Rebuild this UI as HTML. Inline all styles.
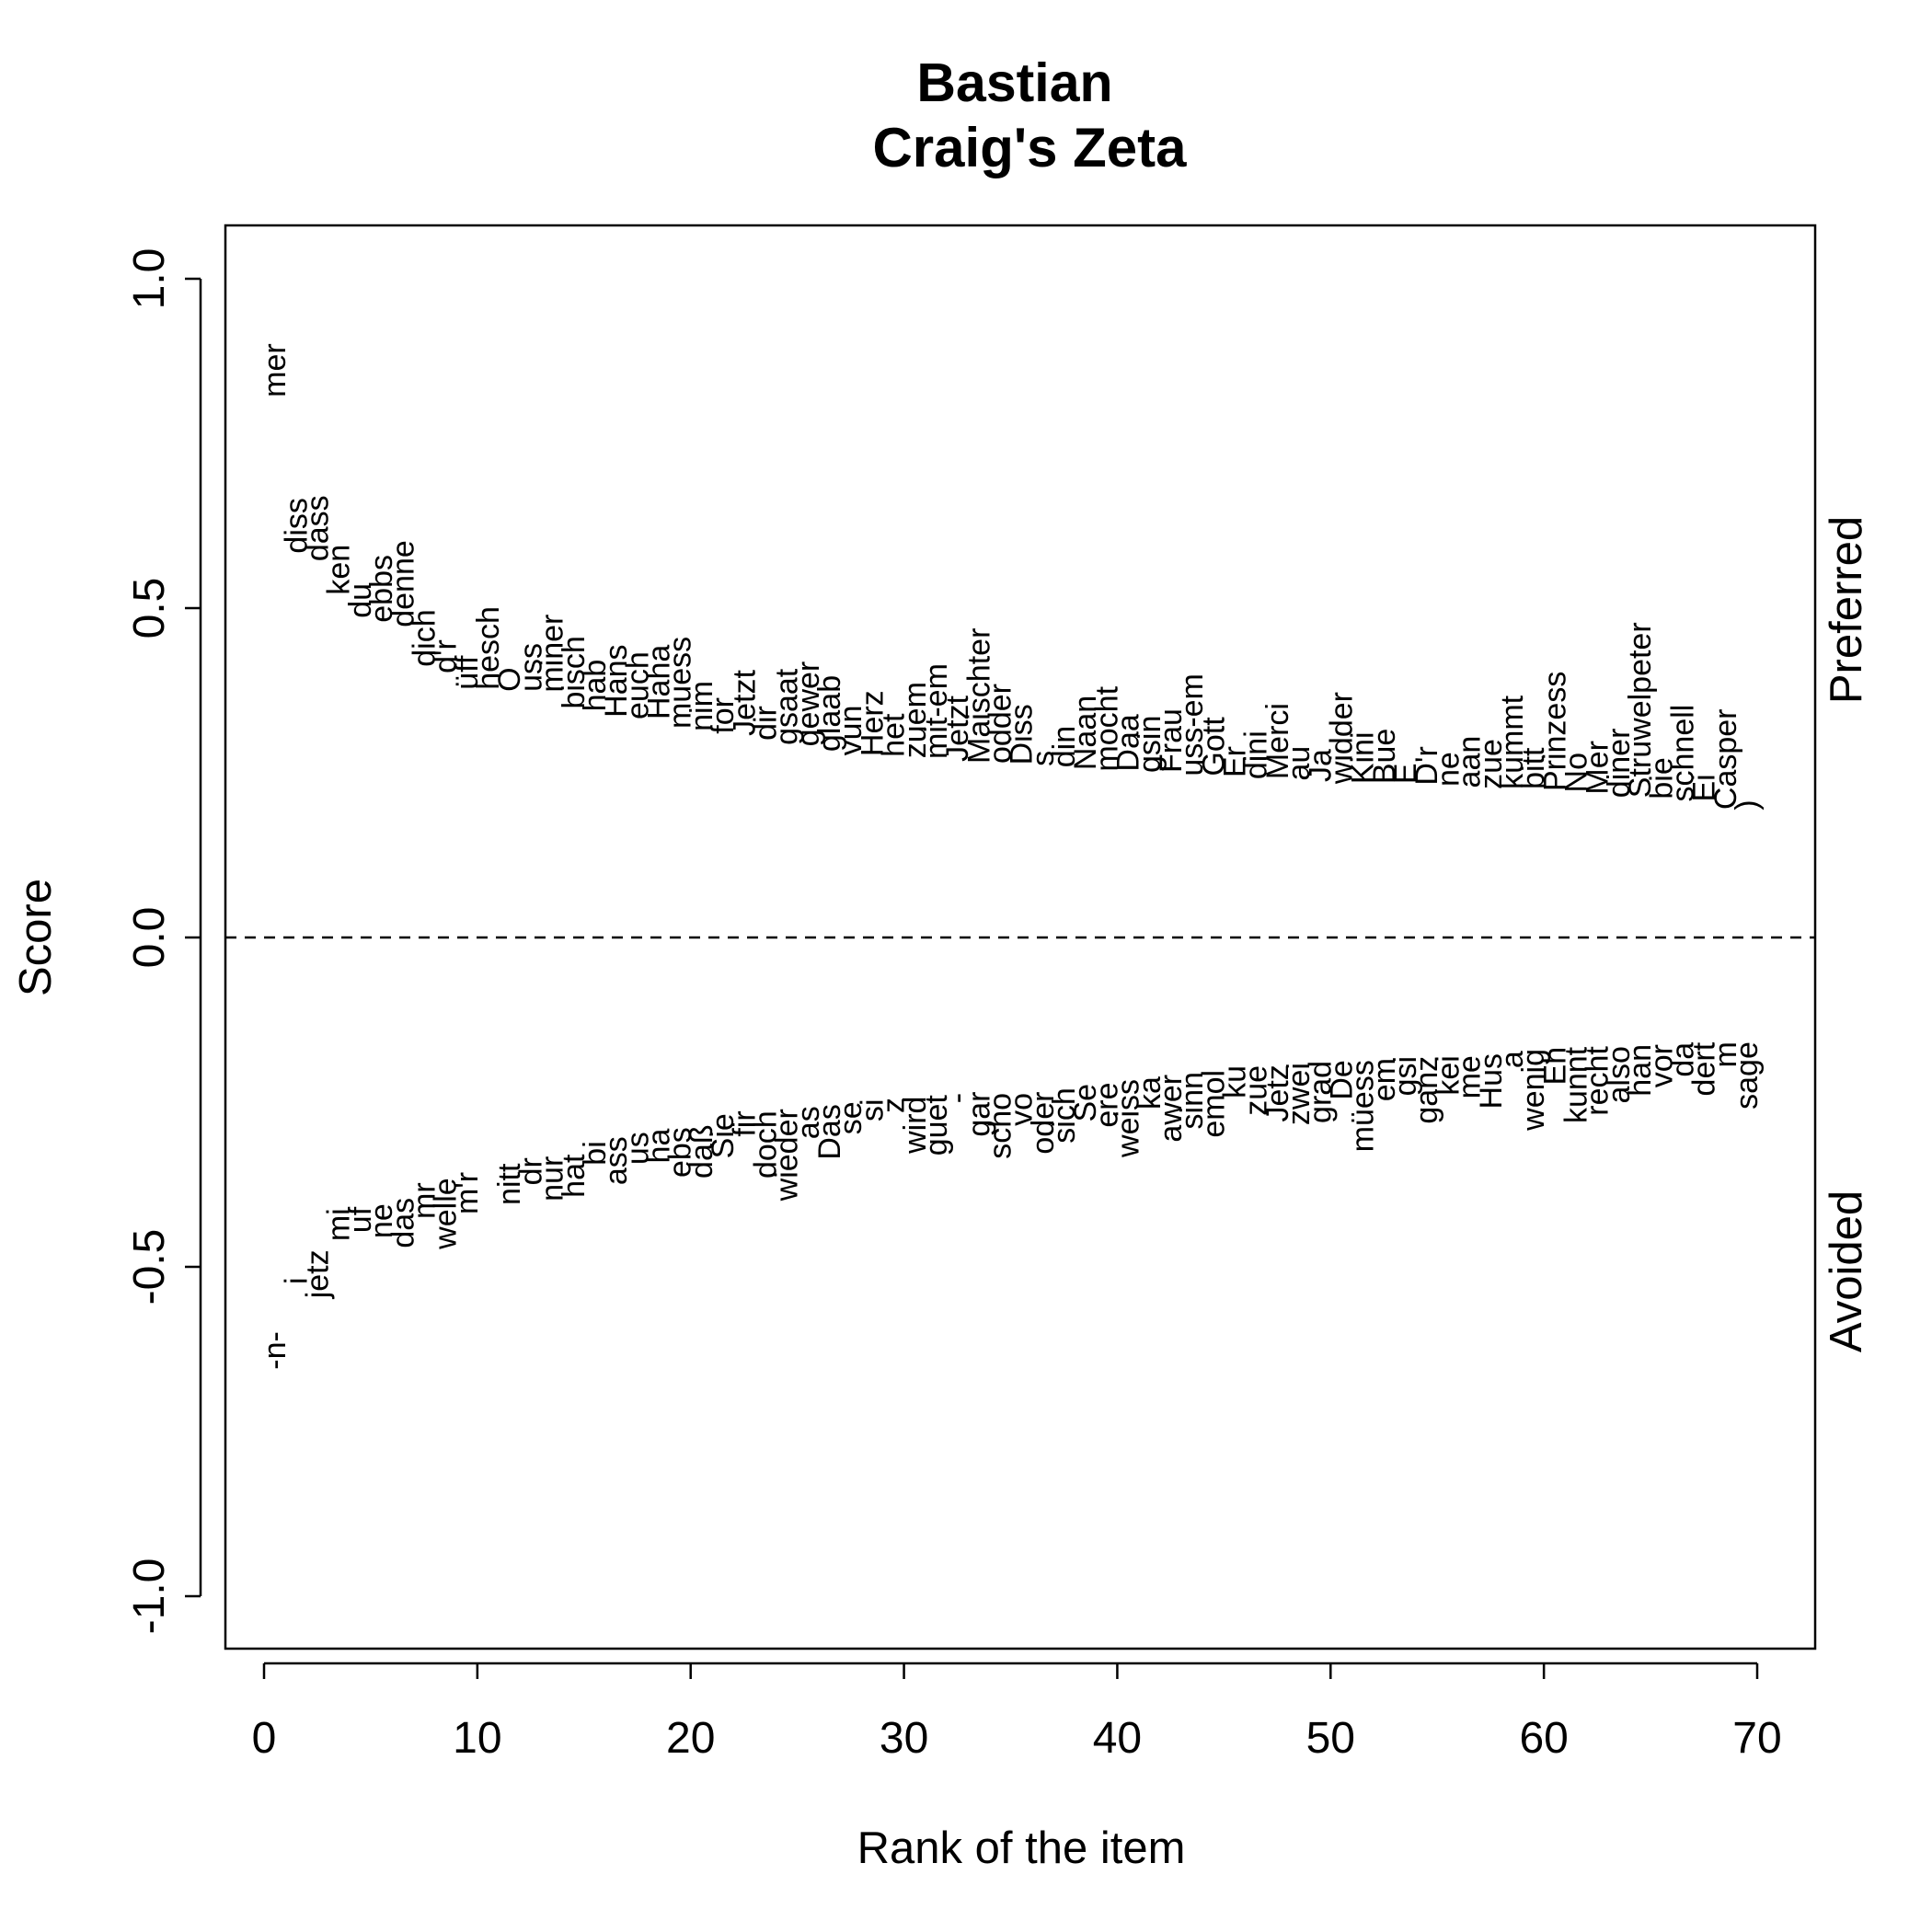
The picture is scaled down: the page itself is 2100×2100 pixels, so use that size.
<!DOCTYPE html>
<html><head><meta charset="utf-8">
<style>
html,body{margin:0;padding:0;background:#fff;}
svg{display:block;font-family:"Liberation Sans",Arial,sans-serif;}
</style></head>
<body>
<svg id="chart" width="2100" height="2100" viewBox="0 0 2100 2100" xmlns="http://www.w3.org/2000/svg">
<rect x="0" y="0" width="2100" height="2100" fill="#fff"/>
<text x="1103" y="110" font-size="59" font-weight="bold" text-anchor="middle">Bastian</text>
<text x="1119" y="181" font-size="60" font-weight="bold" text-anchor="middle">Craig's Zeta</text>
<rect x="245" y="245" width="1728" height="1547" fill="none" stroke="#000" stroke-width="2.5"/>
<g id="axes"></g>
<g id="marks"></g>
<text x="1110" y="2025" font-size="49" text-anchor="middle">Rank of the item</text>
<text transform="translate(55,1019) rotate(-90)" font-size="49" text-anchor="middle">Score</text>
<text transform="translate(2023,663) rotate(-90)" font-size="49" text-anchor="middle">Preferred</text>
<text transform="translate(2023,1382) rotate(-90)" font-size="49" text-anchor="middle">Avoided</text>
</svg>
<script>
const preferredWords = ["mer","diss","dass","ken","du","ebbs","denne","dich","d'r","üff","hesch","O","uss","miner","bisch","hab","Hans","euch","Haha","muess","nim","for","Jetzt","dir","gsaat","gewer","glaab","vun","Herz","het","zuem","mit-em","Jetzt","Maischter","odder","Diss","s","din","Naan","mocht","Daa","gsin","Frau","uss-em","Gott","Er","dini","Merci","au","Ja","widder","Kini","Bue","E","D'r","ne","aan","zue","kummt","bitt","Prinzess","No","Mer","diner","Struwelpeter","bie","schnell","Ei","Casper",")"];
const preferredScores = [0.820,0.583,0.571,0.520,0.485,0.478,0.471,0.411,0.401,0.376,0.376,0.373,0.373,0.372,0.347,0.343,0.334,0.331,0.331,0.317,0.313,0.309,0.306,0.299,0.292,0.290,0.282,0.276,0.275,0.274,0.272,0.271,0.267,0.264,0.264,0.262,0.260,0.258,0.254,0.252,0.252,0.250,0.250,0.245,0.245,0.243,0.240,0.240,0.238,0.236,0.233,0.233,0.233,0.233,0.231,0.229,0.227,0.225,0.225,0.225,0.222,0.220,0.217,0.212,0.212,0.210,0.206,0.206,0.194,0.193];
const avoidedWords = ["-n-","i","jetz","mi","uf","ne","das","mr","welle","m'r","","nitt","dr","nur","hat","bi","ass","us","ha","ebs","daß","Sie","fir","doch","wieder","as","Das","se","si","z","wird","guet","-","gar","scho","vo","oder","sich","Se","ere","weiss","ka","awer","sinn","emol","ku","zue","Jetz","zwei","grad","De","müess","em","gsi","ganz","kei","me","Hus","a","wenig","Eh","kunnt","recht","also","han","vor","da","dert","m","sage"];
const avoidedScores = [-0.598,-0.516,-0.474,-0.411,-0.409,-0.404,-0.395,-0.372,-0.365,-0.356,-0.349,-0.343,-0.334,-0.332,-0.329,-0.309,-0.302,-0.295,-0.290,-0.288,-0.284,-0.267,-0.263,-0.263,-0.260,-0.256,-0.253,-0.249,-0.245,-0.243,-0.241,-0.239,-0.236,-0.234,-0.236,-0.236,-0.234,-0.228,-0.222,-0.220,-0.215,-0.211,-0.208,-0.204,-0.201,-0.194,-0.194,-0.193,-0.190,-0.187,-0.186,-0.186,-0.183,-0.180,-0.180,-0.179,-0.179,-0.176,-0.172,-0.169,-0.166,-0.166,-0.165,-0.165,-0.162,-0.162,-0.159,-0.159,-0.158,-0.158];
const xTicks = [0,10,20,30,40,50,60,70];
const yTicks = [-1.0,-0.5,0.0,0.5,1.0];
const yTickLabels = ["-1.0","-0.5","0.0","0.5","1.0"];

const NS = "http://www.w3.org/2000/svg";
function xs(v){ return 287 + v * (1910 - 287) / 70; }
function ys(v){ return 1019 - v * 716; }
function mk(tag, attrs, parent){
  const e = document.createElementNS(NS, tag);
  for (const k in attrs) e.setAttribute(k, attrs[k]);
  parent.appendChild(e);
  return e;
}
const axes = document.getElementById('axes');
const marks = document.getElementById('marks');

const xl = mk('line', {x1: xs(0), x2: xs(70), y1: 1808, y2: 1808, stroke: '#000', 'stroke-width': 2.5}, axes);


xTicks.forEach(t => {
  const tk = mk('line', {x1: xs(t), x2: xs(t), y1: 1808, y2: 1825, stroke: '#000', 'stroke-width': 2.5}, axes);
  
  
  const lb = mk('text', {x: xs(t), y: 1905, 'font-size': 48, 'text-anchor': 'middle'}, axes);
  
  
  lb.textContent = String(t);
});
const yl = mk('line', {x1: 218, x2: 218, y1: ys(-1), y2: ys(1), stroke: '#000', 'stroke-width': 2.5}, axes);


yTicks.forEach((t, i) => {
  const tk = mk('line', {x1: 201, x2: 218, y1: ys(t), y2: ys(t), stroke: '#000', 'stroke-width': 2.5}, axes);
  
  
  const lb = mk('text', {transform: 'translate(178,' + ys(t) + ') rotate(-90)', 'font-size': 48, 'text-anchor': 'middle'}, axes);
  
  
  lb.textContent = yTickLabels[i];
});
const zl = mk('line', {x1: 245, x2: 1973, y1: ys(0), y2: ys(0), stroke: '#000', 'stroke-width': 2.5, 'stroke-dasharray': '12,9'}, marks);



preferredWords.forEach((w, i) => {
  const t = mk('text', {transform: 'translate(' + xs(i + 1) + ',' + ys(preferredScores[i]) + ') rotate(-90)', 'font-size': 34, 'text-anchor': 'start'}, marks);
  
  
  t.textContent = w;
});
avoidedWords.forEach((w, i) => {
  const t = mk('text', {transform: 'translate(' + xs(i + 1) + ',' + ys(avoidedScores[i]) + ') rotate(-90)', 'font-size': 34, 'text-anchor': 'end'}, marks);
  
  
  t.textContent = w;
});
</script>
</body></html>
